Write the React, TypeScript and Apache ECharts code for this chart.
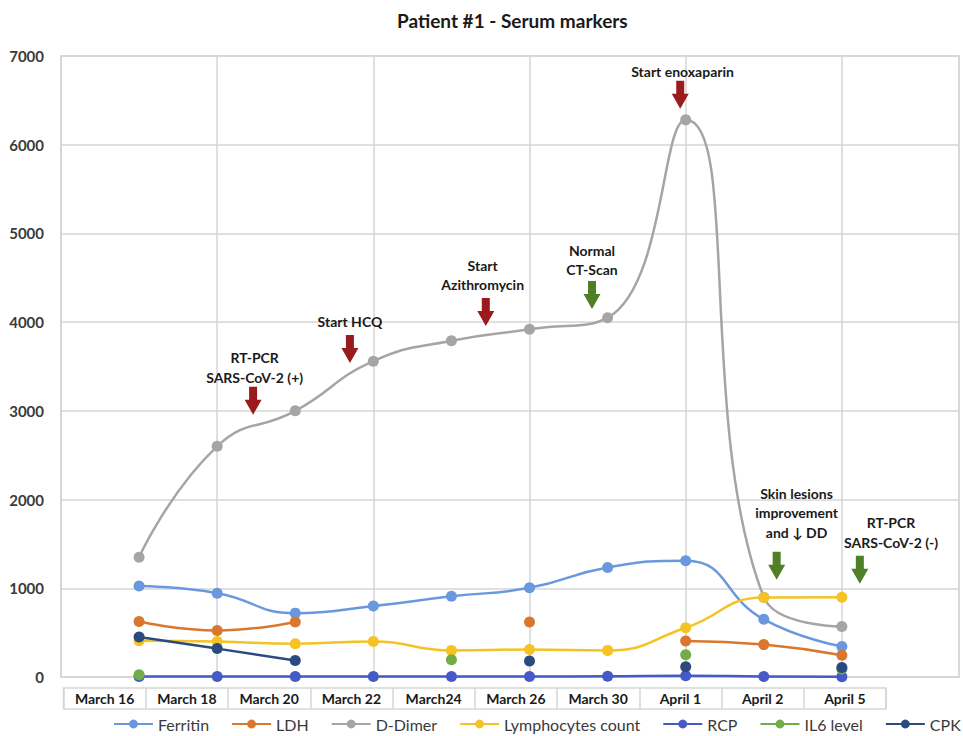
import React, { useEffect, useRef } from 'react';
import * as echarts from 'echarts';

const dates = ['March 16', 'March 18', 'March 20', 'March 22', 'March24', 'March 26', 'March 30', 'April 1', 'April 2', 'April 5'];

const ferritin = [1025, 945, 720, 800, 910, 1005, 1235, 1310, 650, 345];
const ldh = [625, 525, 620, null, null, 620, null, 405, 365, 245];
const dDimer = [1350, 2600, 3000, 3560, 3790, 3920, 4050, 6280, 900, 570];
const lymphocytes = [410, 400, 375, 400, 300, 310, 300, 555, 895, 900];
const rcp = [5, 5, 5, 5, 5, 5, 8, 15, 5, 3];
const il6 = [25, null, null, null, 195, null, null, 250, null, 90];
const cpk = [450, 320, 185, null, null, 180, null, 115, null, 108];

const seriesNames = ['Ferritin', 'LDH', 'D-Dimer', 'Lymphocytes count', 'RCP', 'IL6 level', 'CPK'];
const seriesValues = [ferritin, ldh, dDimer, lymphocytes, rcp, il6, cpk];
const seriesColors = ['#6A98DE', '#D9772F', '#A5A5A5', '#F5C324', '#4759C4', '#72AC48', '#2B4A80'];

const yTicks = { min: 0, max: 7000, interval: 1000 };

const RED = '#991B1E';
const GREEN = '#4F7F26';

// annotation anchors in data coordinates (x index position, y value)
const annotations = [
  { lines: ['RT-PCR', 'SARS-CoV-2 (+)'], arrowX: 2.46, arrowTop: 3272, textX: 2.48, textY: 3599, color: RED },
  { lines: ['Start HCQ'], arrowX: 3.70, arrowTop: 3855, textX: 3.70, textY: 4005, color: RED },
  { lines: ['Start', 'Azithromycin'], arrowX: 5.44, arrowTop: 4272, textX: 5.40, textY: 4644, color: RED },
  { lines: ['Normal', 'CT-Scan'], arrowX: 6.80, arrowTop: 4464, textX: 6.80, textY: 4813, color: GREEN },
  { lines: ['Start enoxaparin'], arrowX: 7.93, arrowTop: 6722, textX: 7.96, textY: 6823, color: RED },
  { lines: ['Skin lesions', 'improvement', 'and \u2193 DD'], arrowX: 9.165, arrowTop: 1412, textX: 9.42, textY: 2071, color: GREEN },
  { lines: ['RT-PCR', 'SARS-CoV-2 (-)'], arrowX: 10.23, arrowTop: 1367, textX: 10.63, textY: 1739, color: GREEN },
];

const arrowShape = [[-4, 0], [4, 0], [4, 13], [8.5, 13], [0, 28], [-8.5, 13], [-4, 13]];

const GRID_COLOR = '#d6d6d6';
const FONT = 'Lato';

export default function App() {
  const ref = useRef<HTMLDivElement>(null);

  useEffect(() => {
    if (!ref.current) return;
    const chart = echarts.init(ref.current, null, { renderer: 'svg' });

    const toPairs = (arr: (number | null)[]) => arr.map((v, i) => [i + 1, v === null ? null : v]);

    const lineSeries = seriesNames.map((name, k) => ({
      type: 'line',
      name,
      xAxisIndex: 0,
      yAxisIndex: 0,
      data: toPairs(seriesValues[k]),
      smooth: 0.5,
      connectNulls: false,
      symbol: 'circle',
      symbolSize: 11,
      showSymbol: true,
      lineStyle: { width: 2.5, color: seriesColors[k] },
      itemStyle: { color: seriesColors[k] },
      emphasis: { disabled: true },
    }));

    const annotationSeries = {
      type: 'custom',
      name: 'annotations',
      coordinateSystem: 'cartesian2d',
      xAxisIndex: 0,
      yAxisIndex: 0,
      clip: false,
      silent: true,
      z: 10,
      data: annotations.map((a) => [a.arrowX, a.arrowTop, a.textX, a.textY]),
      encode: { x: [0, 2], y: [1, 3] },
      renderItem: (params: any, api: any) => {
        const a = annotations[params.dataIndex];
        const [ax, ay] = api.coord([api.value(0), api.value(1)]);
        const [tx, ty] = api.coord([api.value(2), api.value(3)]);
        return {
          type: 'group',
          children: [
            {
              type: 'polygon',
              shape: { points: arrowShape.map(([dx, dy]) => [ax + dx, ay + dy]) },
              style: { fill: a.color },
            },
            ...a.lines.map((t, i) => ({
              type: 'text',
              x: tx,
              y: ty + i * 19.5,
              style: {
                text: t,
                fill: '#1a1a1a',
                fontFamily: FONT,
                fontWeight: 'bold',
                fontSize: 14,
                align: 'center',
                verticalAlign: 'middle',
              },
            })),
          ],
        };
      },
    };

    const option = {
      animation: false,
      backgroundColor: '#ffffff',
      title: {
        text: 'Patient #1 - Serum markers',
        left: 392,
        top: 6,
        textStyle: { fontFamily: FONT, fontWeight: 'bold', fontSize: 19, color: '#1a1a1a' },
      },
      legend: {
        data: seriesNames,
        left: 113,
        top: 716,
        width: 900,
        padding: 0,
        itemWidth: 39,
        itemHeight: 11,
        itemGap: 22,
        textStyle: { fontFamily: FONT, fontSize: 16, color: '#3a3a3a' },
      },
      grid: [
        {
          left: 61, right: 4, top: 56, bottom: 59, containLabel: false,
          show: true, borderColor: GRID_COLOR, borderWidth: 1.5,
        },
        {
          left: 63.5, top: 688, width: 822.5, height: 21, show: true,
          borderColor: GRID_COLOR, borderWidth: 1.5, backgroundColor: '#ffffff',
        },
      ],
      xAxis: [
        {
          type: 'value',
          gridIndex: 0,
          min: 0,
          max: 11.5,
          interval: 2,
          axisLabel: { show: false },
          axisTick: { show: false },
          axisLine: { show: true, lineStyle: { color: GRID_COLOR, width: 1.5 } },
          splitLine: { show: true, lineStyle: { color: GRID_COLOR, width: 1.5 } },
        },
        {
          type: 'category',
          gridIndex: 1,
          data: dates,
          boundaryGap: true,
          axisLine: { show: false },
          axisTick: { show: false },
          splitLine: { show: true, interval: 0, lineStyle: { color: GRID_COLOR, width: 1.5 } },
          axisLabel: {
            interval: 0,
            margin: -10.5,
            verticalAlign: 'middle',
            fontFamily: FONT,
            fontWeight: 'bold',
            fontSize: 14,
            color: '#1a1a1a',
          },
        },
      ],
      yAxis: [
        {
          type: 'value',
          gridIndex: 0,
          min: yTicks.min,
          max: yTicks.max,
          interval: yTicks.interval,
          axisLine: { show: true, lineStyle: { color: GRID_COLOR, width: 1.5 } },
          axisTick: { show: false },
          splitLine: { show: true, lineStyle: { color: GRID_COLOR, width: 1.5 } },
          axisLabel: {
            margin: 17,
            formatter: (v: number) => String(v),
            fontFamily: FONT,
            fontWeight: 'bold',
            fontSize: 15,
            color: '#3a3a3a',
          },
        },
        { type: 'value', gridIndex: 1, show: false },
      ],
      series: [...lineSeries, annotationSeries],
    };

    chart.setOption(option as any);
    return () => chart.dispose();
  }, []);

  return <div ref={ref} style={{ position: 'absolute', left: 0, top: 0, width: 963, height: 736 }} />;
}
